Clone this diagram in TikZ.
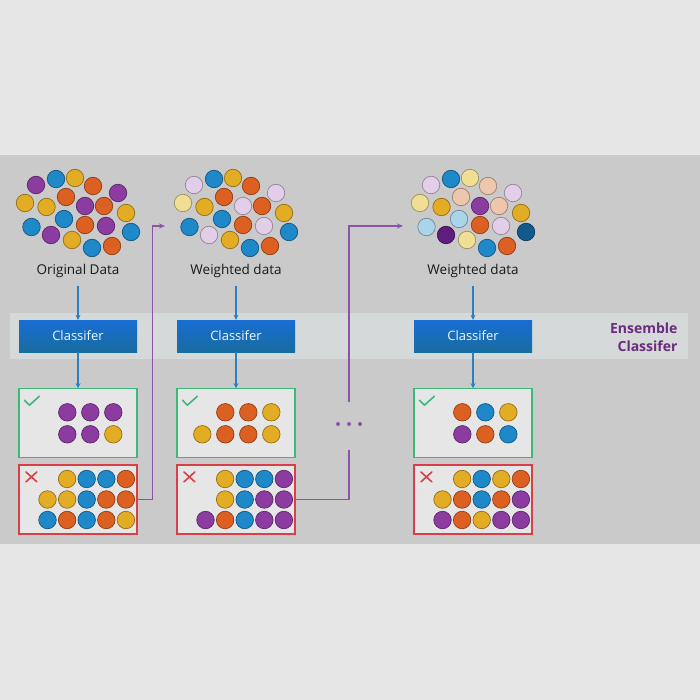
\documentclass[tikz,border=0pt]{standalone}
\usepackage{fontspec}
\setmainfont{Open Sans}
\usepackage{tikz}
\usetikzlibrary{arrows.meta, positioning, calc}
\definecolor{pagegray}{RGB}{230, 230, 230}
\definecolor{panelgray}{RGB}{202, 202, 202}
\definecolor{bandgray}{RGB}{214, 217, 217}
\definecolor{boxgray}{RGB}{230, 230, 230}
\definecolor{okgreen}{RGB}{60, 184, 120}
\definecolor{badred}{RGB}{216, 64, 72}
\definecolor{flowblue}{RGB}{42, 128, 192}
\definecolor{loopurple}{RGB}{140, 84, 168}
\definecolor{enspurple}{RGB}{106, 44, 124}
\definecolor{cpur}{RGB}{140, 60, 160}
\definecolor{cblu}{RGB}{30, 136, 200}
\definecolor{cyel}{RGB}{226, 172, 36}
\definecolor{corg}{RGB}{220, 96, 34}
\definecolor{lpur}{RGB}{226, 206, 232}
\definecolor{lyel}{RGB}{240, 222, 148}
\definecolor{lorg}{RGB}{238, 198, 172}
\definecolor{lblu}{RGB}{170, 212, 234}
\definecolor{dblu}{RGB}{18, 90, 140}
\definecolor{dpur}{RGB}{95, 30, 125}

\begin{document}
\begin{tikzpicture}[
    x=1pt, y=-1pt,
    classbox/.style={minimum width=118pt, minimum height=32pt, inner sep=0pt, top color=blue!20!cblu, bottom color=cblu!80!black, text=white!92!cblu, font=\fontsize{13}{15}\selectfont},
    goodbox/.style={draw=okgreen, line width=1.2pt, fill=boxgray, minimum width=118pt, minimum height=69pt, inner sep=0pt},
    badbox/.style={draw=badred, line width=1.2pt, fill=boxgray, minimum width=118pt, minimum height=69pt, inner sep=0pt},
    dot/.style={circle, inner sep=0pt, minimum size=17.5pt, fill=#1, draw=#1!65!black, line width=0.7pt},
    datatext/.style={font=\fontsize{13.5}{16}\selectfont, text=black!90},
    flow/.style={-{Stealth[length=5pt, width=5pt]}, flowblue, line width=1.5pt},
    feedback/.style={loopurple, line width=1.7pt},
    ensemble/.style={font=\bfseries\fontsize{14}{18}\selectfont, text=enspurple, align=right}
]
    % page and panel
    \useasboundingbox (0,0) rectangle (700,700);
    \fill[pagegray] (0,0) rectangle (700,700);
    \fill[panelgray] (0,155) rectangle (700,544);
    \fill[bandgray] (10,313) rectangle (688,359);

    % the three stages
    \foreach \k/\cx/\lab in {1/78/Original Data, 2/236/Weighted data, 3/473/Weighted data}{
        \node[datatext] (data\k) at (\cx,271) {\lab};
        \node[classbox] (cls\k) at (\cx,336) {Classifer};
        \node[goodbox, below=36pt of cls\k] (ok\k) {};
        \node[badbox, below=6pt of ok\k] (bad\k) {};
        \draw[flow] ($(data\k.south)+(0,5)$) -- (cls\k);
        \draw[flow] (cls\k) -- (ok\k);
        \draw[okgreen, line width=1.6pt, line cap=round, line join=round] ($(ok\k.north west)+(6,12)$) -- ++(5,5) -- ++(10,-9);
        \draw[badred, line width=1.6pt, line cap=round] ($(bad\k.north west)+(7.5,7.5)$) -- ++(11,10) ($(bad\k.north west)+(18.5,7.5)$) -- ++(-11,10);
    }

    \node[ensemble, anchor=east] (ens) at (681,337) {Ensemble\\Classifer};

    % data clouds: position / colour in stage 1 / 2 / 3
    \foreach \x/\y/\ca/\cb/\cc in {
        36/185/cpur/lpur/lpur, 56/179/cblu/cblu/cblu, 75/178/cyel/cyel/lyel,
        93/186/corg/corg/lorg, 118/193/cpur/lpur/lpur, 25/203/cyel/lyel/lyel,
        46.5/207/cyel/cyel/cyel, 66/197/corg/corg/lorg, 85/206/cpur/lpur/cpur,
        104/206/corg/corg/lorg, 126/213/cyel/cyel/cyel, 31.5/227/cblu/cblu/lblu,
        64/219/cblu/cblu/lblu, 85/225/corg/corg/corg, 106/226/cpur/lpur/lpur,
        131/232/cblu/cblu/dblu, 51/235/cpur/lpur/dpur, 72/240/cyel/cyel/lyel,
        92/248/cblu/cblu/cblu, 112/246/corg/corg/corg}{
        \node[dot=\ca] at (\x,\y) {};
        \node[dot=\cb] at (\x+158,\y) {};
        \node[dot=\cc] at (\x+395,\y) {};
    }

    % correctly classified
    \foreach \c/\r/\col in {1/0/cpur, 2/0/cpur, 3/0/cpur, 1/1/cpur, 2/1/cpur, 3/1/cyel}
        \node[dot=\col] at ($(ok1)+(-33.7+23*\c,-11+22*\r)$) {};
    \foreach \c/\r/\col in {1/0/corg, 2/0/corg, 3/0/cyel, 0/1/cyel, 1/1/corg, 2/1/corg, 3/1/cyel}
        \node[dot=\col] at ($(ok2)+(-33.7+23*\c,-11+22*\r)$) {};
    \foreach \c/\r/\col in {1/0/corg, 2/0/cblu, 3/0/cyel, 1/1/cpur, 2/1/corg, 3/1/cblu}
        \node[dot=\col] at ($(ok3)+(-33.7+23*\c,-11+22*\r)$) {};

    % misclassified
    \foreach \c/\r/\col in {1/0/cyel, 2/0/cblu, 3/0/cblu, 4/0/corg,
        0/1/cyel, 1/1/cyel, 2/1/cblu, 3/1/corg, 4/1/corg,
        0/2/cblu, 1/2/corg, 2/2/cblu, 3/2/corg, 4/2/cyel}
        \node[dot=\col] at ($(bad1)+(-30.5+19.6*\c,-20.5+20.5*\r)$) {};
    \foreach \c/\r/\col in {1/0/cyel, 2/0/cblu, 3/0/cblu, 4/0/cpur,
        1/1/cyel, 2/1/cblu, 3/1/cpur, 4/1/cpur,
        0/2/cpur, 1/2/corg, 2/2/cblu, 3/2/cpur, 4/2/cpur}
        \node[dot=\col] at ($(bad2)+(-30.5+19.6*\c,-20.5+20.5*\r)$) {};
    \foreach \c/\r/\col in {1/0/cyel, 2/0/cblu, 3/0/cyel, 4/0/corg,
        0/1/cyel, 1/1/corg, 2/1/cblu, 3/1/corg, 4/1/cpur,
        0/2/cpur, 1/2/corg, 2/2/cyel, 3/2/cpur, 4/2/cpur}
        \node[dot=\col] at ($(bad3)+(-30.5+19.6*\c,-20.5+20.5*\r)$) {};

    % reweighting loops
    \coordinate (w2) at (165,226);
    \coordinate (w3) at (403,226);
    \coordinate (gapbot) at (349,450);
    \coordinate (gaptop) at (349,402);
    \draw[feedback, -{Stealth[length=6pt, width=5pt]}] (bad1.east) -- ++(15,0) |- (w2);
    \draw[feedback] (bad2.east) -| (gapbot);
    \draw[feedback, -{Stealth[length=6pt, width=5pt]}] (gaptop) |- (w3);
    \foreach \dx in {-11,0,11}
        \fill[loopurple] (349+\dx,424) circle (2);
\end{tikzpicture}
\end{document}
